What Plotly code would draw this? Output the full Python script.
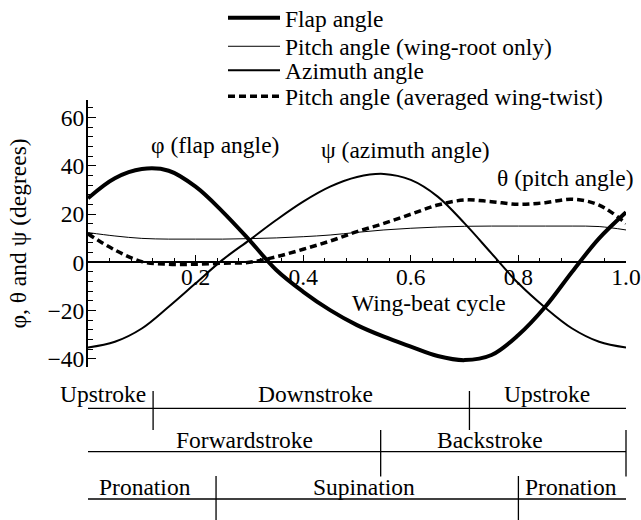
import plotly.graph_objects as go

# Wing-beat kinematics over one normalised cycle (degrees)
cycle = [0.00, 0.05, 0.10, 0.15, 0.20, 0.25, 0.30, 0.35, 0.40, 0.45, 0.50,
         0.55, 0.60, 0.65, 0.70, 0.75, 0.80, 0.85, 0.90, 0.95, 1.00]
flap = [26.5, 34.8, 38.6, 37.9, 31.3, 21.0, 9.2, -3.2, -12.2, -19.8, -26.0,
        -30.8, -34.9, -38.8, -40.5, -38.4, -30.1, -18.4, -3.9, 9.9, 20.7]
azimuth = [-35.3, -32.9, -27.4, -18.4, -8.7, 1.0, 9.2, 17.5, 25.1, 31.3, 35.3,
           36.6, 34.1, 27.2, 16.1, 3.7, -8.7, -18.8, -27.4, -32.9, -35.3]
pitch_root = [12.3, 10.9, 9.9, 9.6, 9.6, 9.6, 9.8, 10.1, 10.6, 11.3, 12.4,
              13.4, 14.1, 14.6, 14.9, 15.0, 15.0, 15.0, 15.0, 14.8, 13.4]
pitch_twist = [11.8, 5.1, 0.3, -0.8, -0.8, -0.4, 0.0, 2.3, 5.4, 8.8, 12.7,
               16.1, 19.9, 23.7, 25.8, 25.1, 24.0, 24.7, 26.1, 23.7, 16.1]

x_ticks = [0.2, 0.4, 0.6, 0.8, 1.0]
x_tick_text = ["0.2", "0.4", "0.6", "0.8", "1.0"]
y_ticks = [-40, -20, 0, 20, 40, 60]
y_tick_text = ["\u221240", "\u221220", "0", "20", "40", "60"]

# Phase boundaries within the cycle
stroke_bounds = [0.121, 0.709]        # upstroke / downstroke
sweep_bounds = [0.544, 1.0]           # forwardstroke / backstroke
rotation_bounds = [0.238, 0.800]      # pronation / supination

stroke_names = ["Upstroke", "Downstroke", "Upstroke"]
sweep_names = ["Forwardstroke", "Backstroke"]
rotation_names = ["Pronation", "Supination", "Pronation"]

FONT = "Liberation Serif, Times New Roman, serif"
FS = 23.5
W, H = 641, 520
ML, MR, MT, MB = 88, 15, 100, 153
PLOT_H = H - MT - MB
X_RANGE = [0.0, 1.0]
Y_RANGE = [-43.35, 67.2]


def ypaper(px):
    """Vertical pixel row -> paper fraction of the plotting area."""
    return (H - MB - px) / PLOT_H


def xpaper(v):
    return (v - X_RANGE[0]) / (X_RANGE[1] - X_RANGE[0])


def txt_font():
    return dict(family=FONT, size=FS, color="black")


fig = go.Figure()

series = [
    ("Flap angle", flap, dict(color="black", width=4), "legend"),
    ("Pitch angle (wing-root only)", pitch_root, dict(color="black", width=1), "legend2"),
    ("Azimuth angle", azimuth, dict(color="black", width=2), "legend3"),
    ("Pitch angle (averaged wing-twist)", pitch_twist,
     dict(color="black", width=3.5, dash="7px,4px"), "legend4"),
]
for name, vals, line, lg in series:
    fig.add_trace(go.Scatter(x=cycle, y=vals, mode="lines", name=name,
                             line=dict(shape="spline", smoothing=1.0, **line),
                             legend=lg, showlegend=True, cliponaxis=False))

legend_rows = [18, 46.5, 70.5, 96.5]
legend_keys = ["legend", "legend2", "legend3", "legend4"]
legend_cfg = {}
for key, row in zip(legend_keys, legend_rows):
    legend_cfg[key] = dict(
        x=(223 - ML) / (W - ML - MR), y=ypaper(row), xanchor="left", yanchor="middle",
        bgcolor="rgba(0,0,0,0)", borderwidth=0, itemwidth=52,
        font=txt_font(),
    )

annotations = [
    dict(x=0.236, y=48.6, text="\u03c6 (flap angle)"),
    dict(x=0.591, y=46.5, text="\u03c8 (azimuth angle)"),
    dict(x=0.888, y=34.8, text="\u03b8 (pitch angle)"),
    dict(x=0.634, y=-17.0, text="Wing-beat cycle"),
]
for a in annotations:
    a.update(xref="x", yref="y", showarrow=False, xanchor="center", yanchor="middle",
             font=txt_font())

# Phase diagram below the plot
shapes = []
rows = [
    dict(text_y=394, line_y=408.3, bounds=stroke_bounds, tick=(391, 430),
         names=stroke_names, centers=[0.028, 0.423, 0.854]),
    dict(text_y=440, line_y=451.7, bounds=sweep_bounds, tick=(430, 476.5),
         names=sweep_names, centers=[0.290, 0.747]),
    dict(text_y=486.7, line_y=499, bounds=rotation_bounds, tick=(476, 520),
         names=rotation_names, centers=[0.106, 0.513, 0.897]),
]
seg = dict(color="black", width=1.3)
for r in rows:
    shapes.append(dict(type="line", xref="paper", yref="paper",
                       x0=xpaper(X_RANGE[0]), x1=xpaper(X_RANGE[1]),
                       y0=ypaper(r["line_y"]), y1=ypaper(r["line_y"]), line=seg))
    for b in r["bounds"]:
        shapes.append(dict(type="line", xref="paper", yref="paper",
                           x0=xpaper(b), x1=xpaper(b),
                           y0=ypaper(r["tick"][0]), y1=ypaper(r["tick"][1]), line=seg))
    for name, c in zip(r["names"], r["centers"]):
        annotations.append(dict(xref="paper", yref="paper", x=xpaper(c), y=ypaper(r["text_y"]),
                                text=name, showarrow=False, xanchor="center", yanchor="middle",
                                font=txt_font()))

fig.update_layout(
    width=W, height=H,
    margin=dict(l=ML, r=MR, t=MT, b=MB, autoexpand=False),
    paper_bgcolor="white", plot_bgcolor="white",
    font=txt_font(),
    annotations=annotations, shapes=shapes,
    **legend_cfg,
)
fig.update_xaxes(
    range=X_RANGE, anchor="free", position=(0 - Y_RANGE[0]) / (Y_RANGE[1] - Y_RANGE[0]),
    showgrid=False, zeroline=False, showline=True, linecolor="black", linewidth=1.5,
    ticks="inside", ticklen=7, tickwidth=1.3, tickcolor="black",
    tickvals=x_ticks, ticktext=x_tick_text, ticklabelstandoff=-6,
    tickfont=txt_font(),
    minor=dict(dtick=0.04, tick0=0, ticks="inside", ticklen=4, tickwidth=1, tickcolor="black",
               showgrid=False),
    automargin=False,
)
fig.update_yaxes(
    range=Y_RANGE, showgrid=False, zeroline=False, showline=True, linecolor="black",
    linewidth=2, ticks="inside", ticklen=8, tickwidth=1.3, tickcolor="black",
    tickvals=y_ticks, ticktext=y_tick_text, ticklabelstandoff=-3,
    tickfont=txt_font(),
    minor=dict(dtick=4, tick0=0, ticks="inside", ticklen=5, tickwidth=1, tickcolor="black",
               showgrid=False),
    title=dict(text="\u03c6, \u03b8 and \u03c8 (degrees)", standoff=14, font=txt_font()),
    automargin=False,
)

fig.write_html("out.html")
